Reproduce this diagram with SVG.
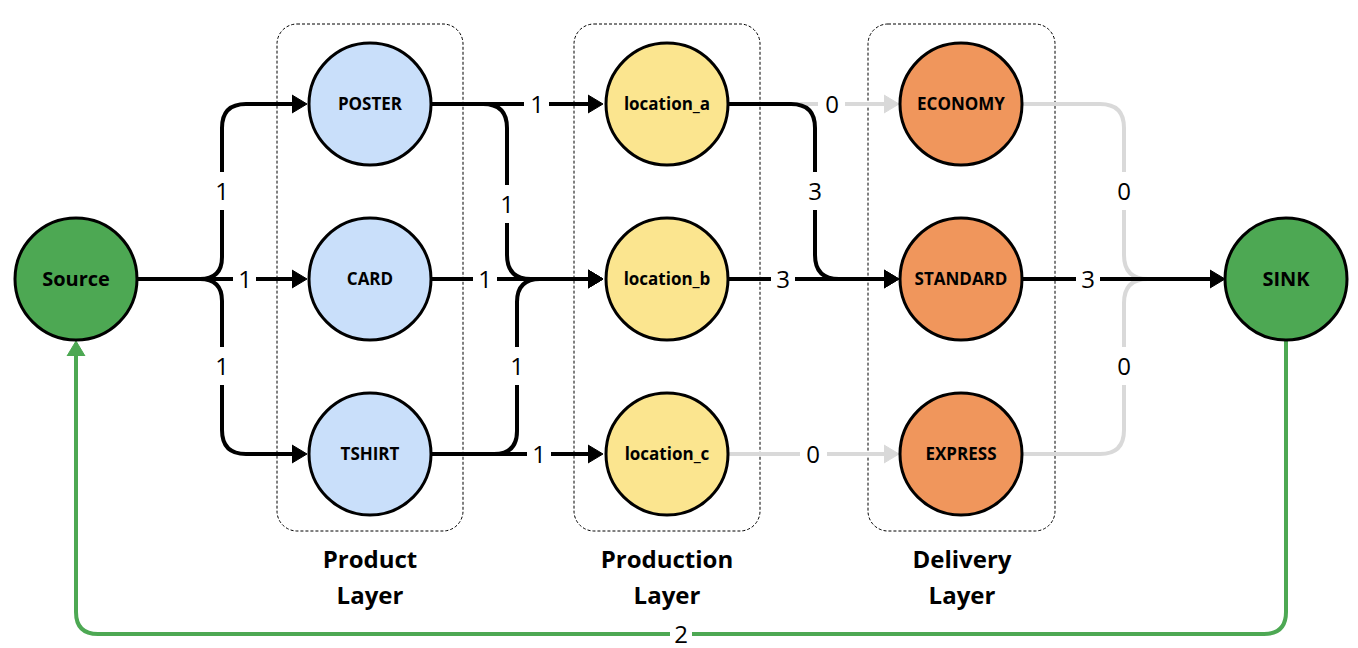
<svg xmlns="http://www.w3.org/2000/svg" width="1358" height="648" viewBox="0 0 1358 648">
<defs>
<style>
.node{stroke:#000;stroke-width:3}
.src{fill:#4da853}
.prod{fill:#c9dffa}
.loc{fill:#fbe58f}
.del{fill:#f0965c}
.nl{font-family:"Open Sans","Liberation Sans",sans-serif;font-weight:700;font-size:17px;text-anchor:middle;fill:#000}
.big{font-size:20px}
.box{fill:none;stroke:#000;stroke-width:1;stroke-dasharray:3 2}
.layer{font-family:"Open Sans","Liberation Sans",sans-serif;font-weight:700;font-size:24px;text-anchor:middle;fill:#000}
.e{fill:none;stroke:#000;stroke-width:4}
.g{fill:none;stroke:#d9d9d9;stroke-width:4}
.gr{fill:none;stroke:#4da853;stroke-width:4}
.el{font-family:"Open Sans","Liberation Sans",sans-serif;font-size:24px;text-anchor:middle;fill:#000}
.bg{fill:#fff}
</style>
<marker id="ab" markerUnits="userSpaceOnUse" viewBox="0 -10 16 20" refX="9" refY="0" markerWidth="16" markerHeight="20" orient="auto"><path d="M0,-9 L15,0 L0,9 Z" fill="#000" stroke="#000" stroke-width="1" stroke-linejoin="round"/></marker>
<marker id="ag" markerUnits="userSpaceOnUse" viewBox="0 -10 16 20" refX="9" refY="0" markerWidth="16" markerHeight="20" orient="auto"><path d="M0,-9 L15,0 L0,9 Z" fill="#d9d9d9" stroke="#d9d9d9" stroke-width="1" stroke-linejoin="round"/></marker>
<marker id="agr" markerUnits="userSpaceOnUse" viewBox="0 -10 16 20" refX="9" refY="0" markerWidth="16" markerHeight="20" orient="auto"><path d="M0,-9 L15,0 L0,9 Z" fill="#4da853" stroke="#4da853" stroke-width="1" stroke-linejoin="round"/></marker>
</defs>
<rect width="1358" height="648" fill="#fff"/>

<g id="layers">
<rect class="box" x="277" y="24" width="186" height="507" rx="20"/>
<rect class="box" x="574" y="24" width="186" height="507" rx="20"/>
<rect class="box" x="868" y="24" width="187" height="507" rx="20"/>
<text class="layer" x="370" y="568">Product</text>
<text class="layer" x="370" y="604">Layer</text>
<text class="layer" x="667" y="568">Production</text>
<text class="layer" x="667" y="604">Layer</text>
<text class="layer" x="962" y="568">Delivery</text>
<text class="layer" x="962" y="604">Layer</text>
</g>

<g id="connectors">
<path class="g" d="M729,104 H893" marker-end="url(#ag)"/>
<path class="g" d="M729,454 H893" marker-end="url(#ag)"/>
<path class="g" d="M1023,104 H1100 Q1124,104 1124,128 V255 Q1124,279 1148,279"/>
<path class="g" d="M1023,454 H1100 Q1124,454 1124,430 V303 Q1124,279 1148,279"/>
<path class="e" d="M138,279 H200 Q222,279 222,257 V128 Q222,104 246,104 H301" marker-end="url(#ab)"/>
<path class="e" d="M138,279 H301" marker-end="url(#ab)"/>
<path class="e" d="M138,279 H200 Q222,279 222,301 V430 Q222,454 246,454 H301" marker-end="url(#ab)"/>
<path class="e" d="M432,104 H597" marker-end="url(#ab)"/>
<path class="e" d="M432,104 H483 Q507,104 507,128 V255 Q507,279 531,279 H597" marker-end="url(#ab)"/>
<path class="e" d="M432,279 H597" marker-end="url(#ab)"/>
<path class="e" d="M432,454 H494 Q517,454 517,431 V302 Q517,279 540,279 H597" marker-end="url(#ab)"/>
<path class="e" d="M432,454 H597" marker-end="url(#ab)"/>
<path class="e" d="M729,104 H791 Q815,104 815,128 V255 Q815,279 839,279 H893" marker-end="url(#ab)"/>
<path class="e" d="M729,279 H893" marker-end="url(#ab)"/>
<path class="e" d="M1023,279 H1219" marker-end="url(#ab)"/>
<path class="gr" d="M1286,341 V612 Q1286,634 1264,634 H98 Q76,634 76,612 V347" marker-end="url(#agr)"/>

<rect class="bg" x="212" y="172" width="20" height="38"/><text class="el" x="222" y="200">1</text>
<rect class="bg" x="233" y="268" width="23" height="22"/><text class="el" x="245" y="288">1</text>
<rect class="bg" x="212" y="347" width="20" height="38"/><text class="el" x="222" y="375">1</text>
<rect class="bg" x="524" y="93" width="25" height="22"/><text class="el" x="537" y="113">1</text>
<rect class="bg" x="497" y="185" width="20" height="38"/><text class="el" x="507" y="213">1</text>
<rect class="bg" x="473" y="268" width="24" height="22"/><text class="el" x="485" y="288">1</text>
<rect class="bg" x="507" y="347" width="20" height="38"/><text class="el" x="517" y="375">1</text>
<rect class="bg" x="527" y="443" width="24" height="22"/><text class="el" x="539" y="463">1</text>
<rect class="bg" x="818" y="93" width="27" height="22"/><text class="el" x="832" y="113">0</text>
<rect class="bg" x="805" y="172" width="20" height="38"/><text class="el" x="815" y="200">3</text>
<rect class="bg" x="771" y="268" width="24" height="22"/><text class="el" x="783" y="288">3</text>
<rect class="bg" x="800" y="443" width="27" height="22"/><text class="el" x="813" y="463">0</text>
<rect class="bg" x="1114" y="172" width="20" height="38"/><text class="el" x="1124" y="200">0</text>
<rect class="bg" x="1076" y="268" width="24" height="22"/><text class="el" x="1088" y="288">3</text>
<rect class="bg" x="1114" y="347" width="20" height="38"/><text class="el" x="1124" y="375">0</text>
<rect class="bg" x="670" y="623" width="22" height="22"/><text class="el" x="681" y="643">2</text>
</g>

<g id="source"><circle class="node src" cx="76" cy="279" r="61"/><text class="nl big" x="76" y="286">Source</text></g>
<g id="poster"><circle class="node prod" cx="370" cy="104" r="61"/><text class="nl" x="370" y="110">POSTER</text></g>
<g id="card"><circle class="node prod" cx="370" cy="279" r="61"/><text class="nl" x="370" y="285">CARD</text></g>
<g id="tshirt"><circle class="node prod" cx="370" cy="454" r="61"/><text class="nl" x="370" y="460">TSHIRT</text></g>
<g id="location_a"><circle class="node loc" cx="667" cy="104" r="61"/><text class="nl" x="667" y="110">location_a</text></g>
<g id="location_b"><circle class="node loc" cx="667" cy="279" r="61"/><text class="nl" x="667" y="285">location_b</text></g>
<g id="location_c"><circle class="node loc" cx="667" cy="454" r="61"/><text class="nl" x="667" y="460">location_c</text></g>
<g id="economy"><circle class="node del" cx="961" cy="104" r="61"/><text class="nl" x="961" y="110">ECONOMY</text></g>
<g id="standard"><circle class="node del" cx="961" cy="279" r="61"/><text class="nl" x="961" y="285">STANDARD</text></g>
<g id="express"><circle class="node del" cx="961" cy="454" r="61"/><text class="nl" x="961" y="460">EXPRESS</text></g>
<g id="sink"><circle class="node src" cx="1286" cy="279" r="61"/><text class="nl big" x="1286" y="286">SINK</text></g>
</svg>
